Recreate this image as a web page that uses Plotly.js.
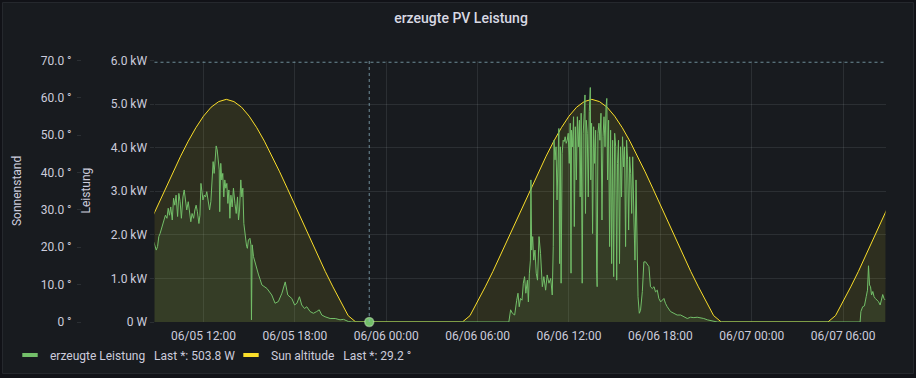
<!DOCTYPE html>
<html><head><meta charset="utf-8">
<script src="https://cdn.plot.ly/plotly-3.0.1.min.js"></script>
<style>html,body{margin:0;padding:0;background:#111217;}#chart{width:916px;height:378px;}</style>
</head><body><div id="chart"></div>
<script>
// ---------- data ----------
const dayDates = ["2023-06-05", "2023-06-06", "2023-06-07"];

// Sun altitude (degrees), every 30 minutes starting 2023-06-05 08:30
const sunStart = "2023-06-05 08:30";
const sunStepMinutes = 30;
const sunAltitude = [
  26.8,31.3,35.8,40.2,44.4,48.4,52.0,55.1,57.5,59.0,59.6,59.0,57.5,55.1,52.0,48.4,44.4,40.2,35.8,31.3,26.8,22.3,17.9,13.5,9.4,5.4,1.7,0,0,0,0,
  0,0,0,0,0,0,0,0,0,0,0,1.7,5.4,9.4,13.5,17.9,22.3,26.8,31.3,35.8,40.2,44.4,48.4,52.0,55.1,57.5,59.0,59.6,59.0,57.5,55.1,52.0,48.4,44.4,40.2,35.8,31.3,26.8,22.3,17.9,13.5,9.4,5.4,1.7,0,0,0,0,
  0,0,0,0,0,0,0,0,0,0,0,1.7,5.4,9.4,13.5,17.9,22.3,26.8,31.3
];

// Generated power (kW); times as minutes of the day
const day1Minutes = [524,534,539,544,549,557,565,570,576,581,586,591,597,602,607,612,618,623,628,633,639,644,649,654,660,665,670,675,681,686,691,696,702,706,710,714,718,723,728,733,739,744,749,754,758,762,766,770,774,778,782,784,788,792,796,800,804,808,812,816,820,824,828,833,838,844,849,854,858,862,867,871,875,879,884,890,893,897,903,907,909,912,917,924,930,937,943,950,970,989,1002,1015,1029,1042,1052,1061,1068,1079,1088,1098,1107,1118,1127,1140,1153,1166,1176,1186,1199,1219,1239,1258,1272,1291,1304];
const day1Power = [1.84,1.65,1.73,1.96,2.03,2.19,2.38,2.45,2.38,2.61,2.45,2.64,2.34,2.84,2.68,2.91,2.42,2.95,2.76,2.38,2.87,3.03,2.80,2.57,2.76,2.45,2.30,2.49,2.38,2.57,2.68,2.53,2.26,2.45,3.18,2.99,2.80,2.91,2.87,2.99,2.68,2.57,2.76,3.33,3.68,3.41,3.87,4.04,3.95,3.72,3.49,2.53,3.64,3.26,3.41,2.87,3.26,3.07,3.18,2.72,3.03,2.38,2.91,2.64,3.07,2.72,2.49,2.87,2.34,2.57,3.26,2.87,3.07,2.26,1.96,1.73,1.69,1.88,1.92,1.77,0.05,1.77,1.50,1.33,1.20,1.08,0.98,0.85,0.77,0.62,0.43,0.47,0.66,0.92,0.62,0.58,0.54,0.39,0.43,0.58,0.39,0.31,0.35,0.24,0.20,0.24,0.28,0.16,0.12,0.08,0.08,0.05,0.06,0.01,0];

const day2Minutes = [483,490,497,506,514,519,524,529,535,540,545,550,556,560,564,568,570,573,577,581,586,591,596,602,608,615,621,628,634,641,648,654,658,661,665,669,673,677,680,683,686,689,693,697,701,705,709,713,717,721,725,728,730,734,738,741,745,749,753,757,761,764,768,772,776,780,783,785,788,792,796,800,804,806,809,813,817,821,825,829,831,834,838,842,846,850,854,858,862,866,869,872,876,880,884,888,892,896,900,904,908,911,915,919,923,927,931,935,939,943,947,951,955,959,963,967,971,976,980,984,988,992,997,1002,1009,1015,1022,1028,1035,1041,1048,1055,1061,1068,1074,1081,1087,1094,1100,1107,1120,1133,1146,1160,1173,1186,1199,1212,1225,1238,1251,1265,1284,1304];
const day2Power = [0,0.28,0.20,0.16,0.50,0.66,0.35,0.54,0.50,0.89,1.04,0.66,0.96,0.46,1.12,1.42,3.26,1.65,1.96,1.42,1.65,1.12,0.96,1.96,1.57,0.81,1.04,0.73,1.08,0.89,1.00,0.62,1.73,4.17,3.72,4.02,2.80,4.17,4.44,1.34,4.02,0.89,3.87,4.17,4.14,4.25,4.10,4.17,4.33,3.64,4.56,1.12,4.40,4.02,4.71,2.19,4.48,3.26,4.71,4.02,4.63,2.87,4.79,0.89,4.33,4.79,5.21,2.49,4.63,4.33,2.87,4.83,5.38,3.26,4.56,2.03,4.48,3.64,4.40,1.12,0.81,4.33,4.56,4.17,4.79,2.34,4.25,4.71,4.02,4.94,5.13,3.26,4.63,1.73,4.40,1.34,4.17,1.04,4.33,4.02,0.96,3.64,4.17,1.34,4.02,2.87,4.25,3.56,4.02,1.73,4.17,3.72,2.11,3.79,3.41,2.49,3.79,2.34,1.42,3.26,1.57,0.58,0.20,0.27,0.70,1.38,1.38,1.34,1.27,0.81,0.77,0.81,0.69,0.73,0.54,0.46,0.50,0.54,0.43,0.35,0.24,0.20,0.16,0.16,0.11,0.08,0.11,0.10,0.11,0.10,0.08,0.05,0.02,0];

const day3Minutes = [427,430,437,444,451,456,460,464,468,472,477,482,487,493,499,506,511,516,521,526];
const day3Power = [0,0.24,0.35,0.37,0.58,0.73,1.29,0.85,0.81,0.62,0.70,0.58,0.54,0.51,0.47,0.39,0.51,0.63,0.54,0.504];

const viewRange = ["2023-06-05 08:47", "2023-06-07 08:47"];
const hoverTime = "2023-06-05 22:53";
const powerTickVals = [0,1,2,3,4,5,6];
const powerTickText = ["0 W","1.0 kW","2.0 kW","3.0 kW","4.0 kW","5.0 kW","6.0 kW"];
const sunTickVals = [0,10,20,30,40,50,60,70];
const sunTickText = ["0 °","10.0 °","20.0 °","30.0 °","40.0 °","50.0 °","60.0 °","70.0 °"];
const powerName = "erzeugte Leistung\u00a0\u00a0 Last *: 503.8 W";
const sunName = "Sun altitude\u00a0\u00a0 Last *: 29.2 °";

// ---------- build ----------
function pad(n){return (n<10?"0":"")+n;}
function stamp(date, minutes){return date+" "+pad(Math.floor(minutes/60))+":"+pad(minutes%60);}
const powerX = [], powerY = [];
[[day1Minutes,day1Power],[day2Minutes,day2Power],[day3Minutes,day3Power]].forEach((d,i)=>{
  d[0].forEach((m,j)=>{powerX.push(stamp(dayDates[i],m)); powerY.push(d[1][j]);});
});
const sunX = [];
const s0 = Date.UTC(2023,5,5,8,30);
sunAltitude.forEach((v,i)=>{
  const t = new Date(s0 + i*sunStepMinutes*60000).toISOString();
  sunX.push(t.slice(0,10)+" "+t.slice(11,16));
});

const W=916,H=378;
const plotL=154.5, plotR=885.5, plotT=60.5, plotB=322;
const px = v => v/W, py = v => 1 - v/H;
const GREEN="#73BF69", YELLOW="#FADE2A";
const GRID="rgba(240,250,255,0.09)";
const TEXT="#ccccdc";

const traces = [
  {x:sunX, y:sunAltitude, yaxis:'y', type:'scatter', mode:'lines', line:{color:YELLOW,width:1}, fill:'tozeroy', fillcolor:'rgba(250,222,42,0.1)', showlegend:false, hoverinfo:'skip'},
  {x:powerX, y:powerY, yaxis:'y2', type:'scatter', mode:'lines', line:{color:GREEN,width:1}, fill:'tozeroy', fillcolor:'rgba(115,191,105,0.1)', showlegend:false, hoverinfo:'skip'},
  {x:[hoverTime], y:[0], yaxis:'y2', type:'scatter', mode:'markers', marker:{color:GREEN,size:9,line:{color:'rgba(200,240,190,0.5)',width:1.5}}, cliponaxis:false, showlegend:false, hoverinfo:'skip'},
  {x:[null], y:[null], yaxis:'y2', type:'scatter', mode:'markers', name:powerName, marker:{symbol:'line-ew', size:11, color:GREEN, line:{color:GREEN,width:4}}},
  {x:[null], y:[null], yaxis:'y', type:'scatter', mode:'markers', name:sunName, marker:{symbol:'line-ew', size:11, color:YELLOW, line:{color:YELLOW,width:4}}}
];

const layout = {
  width:W, height:H, margin:{l:0,r:0,t:0,b:0,pad:0},
  paper_bgcolor:'#111217', plot_bgcolor:'#181b1f',
  font:{family:'Roboto, sans-serif', size:12, color:TEXT},
  title:{text:'erzeugte PV Leistung', x:px(461), xanchor:'center', xref:'paper', y:py(18), yanchor:'middle', yref:'paper', font:{size:14, weight:500, color:'#d8d9e3'}},
  xaxis:{type:'date', domain:[px(plotL),px(plotR)], range:viewRange, anchor:'y', tickformat:'%m/%d %H:%M', dtick:21600000, tick0:'2023-06-05 00:00',
    showgrid:true, gridcolor:GRID, gridwidth:1, zeroline:false, showline:false, ticks:'', ticklabelstandoff:5, automargin:false, tickfont:{size:12,color:TEXT}, fixedrange:true},
  yaxis:{domain:[py(plotB),py(plotT)], range:[0,70], anchor:'free', position:px(81), side:'left', tickmode:'array', tickvals:sunTickVals, ticktext:sunTickText,
    showgrid:false, zeroline:false, showline:false, ticks:'outside', ticklen:4, tickcolor:GRID, ticklabelstandoff:3, ticklabelshift:-2.5, automargin:false, tickfont:{size:12,color:TEXT}, fixedrange:true},
  yaxis2:{overlaying:'y', anchor:'x', side:'left', range:[0,6], tickmode:'array', tickvals:powerTickVals, ticktext:powerTickText,
    showgrid:true, gridcolor:GRID, zeroline:false, showline:false, ticks:'outside', ticklen:4, tickcolor:GRID, ticklabelshift:-2.5, automargin:false, tickfont:{size:12,color:TEXT}, fixedrange:true},
  showlegend:true,
  legend:{orientation:'h', x:px(10), xanchor:'left', y:py(355), yanchor:'middle', entrywidth:176, bgcolor:'rgba(0,0,0,0)', font:{size:12,color:TEXT}, itemclick:false, itemdoubleclick:false},
  annotations:[
    {text:'Sonnenstand', xref:'paper', yref:'paper', x:px(17), y:py(191), textangle:-90, showarrow:false, font:{size:12,color:TEXT}, xanchor:'center', yanchor:'middle'},
    {text:'Leistung', xref:'paper', yref:'paper', x:px(85), y:py(190.5), textangle:-90, showarrow:false, font:{size:12,color:TEXT}, xanchor:'center', yanchor:'middle'}
  ],
  shapes:[
    {type:'rect', xref:'paper', yref:'paper', x0:px(2.5), x1:px(913.5), y0:py(373.5), y1:py(2.5), line:{color:'#25282d',width:1}, fillcolor:'#181b1f', layer:'below'},
    {type:'line', xref:'x', yref:'paper', x0:hoverTime, x1:hoverTime, y0:py(plotB), y1:py(plotT), line:{color:'rgba(140,180,195,0.75)',width:1,dash:'3px,3px'}},
    {type:'line', xref:'paper', yref:'y2', x0:px(plotL), x1:px(plotR), y0:5.96, y1:5.96, line:{color:'rgba(140,180,195,0.75)',width:1,dash:'3px,3px'}}
  ],
  hovermode:false
};
Plotly.newPlot('chart', traces, layout, {displayModeBar:false, staticPlot:true});
</script></body></html>
